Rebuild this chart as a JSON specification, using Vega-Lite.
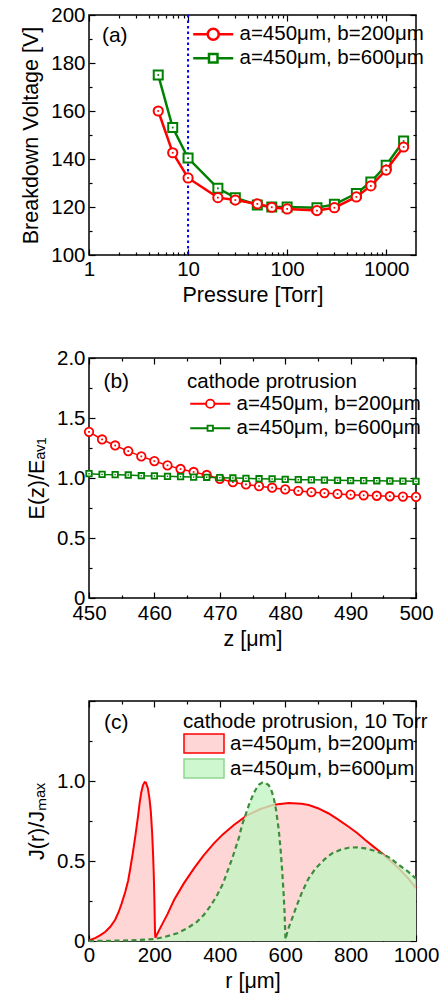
{
 "$schema": "https://vega.github.io/schema/vega-lite/v6.json",
 "padding": {"left": 20, "top": 4, "right": 5, "bottom": 5},
 "background": "white",
 "bounds": "flush",
 "spacing": 103,
 "resolve": {"scale": {"color": "independent", "shape": "independent", "size": "independent", "stroke": "independent"}, "legend": {"color": "independent", "shape": "independent", "size": "independent", "stroke": "independent"}},
 "datasets": {
  "pa": [
   {"p": 5, "v": 175.0, "s": "a=450μm, b=600μm"},
   {"p": 7, "v": 153.1, "s": "a=450μm, b=600μm"},
   {"p": 10, "v": 140.4, "s": "a=450μm, b=600μm"},
   {"p": 20, "v": 127.8, "s": "a=450μm, b=600μm"},
   {"p": 30, "v": 123.9, "s": "a=450μm, b=600μm"},
   {"p": 50, "v": 120.8, "s": "a=450μm, b=600μm"},
   {"p": 70, "v": 120.0, "s": "a=450μm, b=600μm"},
   {"p": 100, "v": 120.0, "s": "a=450μm, b=600μm"},
   {"p": 200, "v": 119.7, "s": "a=450μm, b=600μm"},
   {"p": 300, "v": 121.1, "s": "a=450μm, b=600μm"},
   {"p": 500, "v": 125.6, "s": "a=450μm, b=600μm"},
   {"p": 700, "v": 130.4, "s": "a=450μm, b=600μm"},
   {"p": 1000, "v": 137.4, "s": "a=450μm, b=600μm"},
   {"p": 1500, "v": 147.5, "s": "a=450μm, b=600μm"},
   {"p": 5, "v": 160.0, "s": "a=450μm, b=200μm"},
   {"p": 7, "v": 142.6, "s": "a=450μm, b=200μm"},
   {"p": 10, "v": 132.1, "s": "a=450μm, b=200μm"},
   {"p": 20, "v": 123.9, "s": "a=450μm, b=200μm"},
   {"p": 30, "v": 122.9, "s": "a=450μm, b=200μm"},
   {"p": 50, "v": 121.3, "s": "a=450μm, b=200μm"},
   {"p": 70, "v": 119.9, "s": "a=450μm, b=200μm"},
   {"p": 100, "v": 119.2, "s": "a=450μm, b=200μm"},
   {"p": 200, "v": 118.5, "s": "a=450μm, b=200μm"},
   {"p": 300, "v": 119.7, "s": "a=450μm, b=200μm"},
   {"p": 500, "v": 124.2, "s": "a=450μm, b=200μm"},
   {"p": 700, "v": 128.8, "s": "a=450μm, b=200μm"},
   {"p": 1000, "v": 135.4, "s": "a=450μm, b=200μm"},
   {"p": 1500, "v": 145.0, "s": "a=450μm, b=200μm"}
  ],
  "pb": [
   {"z": 450, "e": 1.385, "s": "a=450μm, b=200μm"},
   {"z": 452, "e": 1.321, "s": "a=450μm, b=200μm"},
   {"z": 454, "e": 1.271, "s": "a=450μm, b=200μm"},
   {"z": 456, "e": 1.224, "s": "a=450μm, b=200μm"},
   {"z": 458, "e": 1.18, "s": "a=450μm, b=200μm"},
   {"z": 460, "e": 1.141, "s": "a=450μm, b=200μm"},
   {"z": 462, "e": 1.105, "s": "a=450μm, b=200μm"},
   {"z": 464, "e": 1.075, "s": "a=450μm, b=200μm"},
   {"z": 466, "e": 1.05, "s": "a=450μm, b=200μm"},
   {"z": 468, "e": 1.025, "s": "a=450μm, b=200μm"},
   {"z": 470, "e": 0.993, "s": "a=450μm, b=200μm"},
   {"z": 472, "e": 0.965, "s": "a=450μm, b=200μm"},
   {"z": 474, "e": 0.946, "s": "a=450μm, b=200μm"},
   {"z": 476, "e": 0.932, "s": "a=450μm, b=200μm"},
   {"z": 478, "e": 0.919, "s": "a=450μm, b=200μm"},
   {"z": 480, "e": 0.905, "s": "a=450μm, b=200μm"},
   {"z": 482, "e": 0.893, "s": "a=450μm, b=200μm"},
   {"z": 484, "e": 0.882, "s": "a=450μm, b=200μm"},
   {"z": 486, "e": 0.874, "s": "a=450μm, b=200μm"},
   {"z": 488, "e": 0.867, "s": "a=450μm, b=200μm"},
   {"z": 490, "e": 0.861, "s": "a=450μm, b=200μm"},
   {"z": 492, "e": 0.856, "s": "a=450μm, b=200μm"},
   {"z": 494, "e": 0.852, "s": "a=450μm, b=200μm"},
   {"z": 496, "e": 0.848, "s": "a=450μm, b=200μm"},
   {"z": 498, "e": 0.845, "s": "a=450μm, b=200μm"},
   {"z": 500, "e": 0.842, "s": "a=450μm, b=200μm"},
   {"z": 450, "e": 1.036, "s": "a=450μm, b=600μm"},
   {"z": 452, "e": 1.030, "s": "a=450μm, b=600μm"},
   {"z": 454, "e": 1.028, "s": "a=450μm, b=600μm"},
   {"z": 456, "e": 1.025, "s": "a=450μm, b=600μm"},
   {"z": 458, "e": 1.019, "s": "a=450μm, b=600μm"},
   {"z": 460, "e": 1.017, "s": "a=450μm, b=600μm"},
   {"z": 462, "e": 1.014, "s": "a=450μm, b=600μm"},
   {"z": 464, "e": 1.011, "s": "a=450μm, b=600μm"},
   {"z": 466, "e": 1.008, "s": "a=450μm, b=600μm"},
   {"z": 468, "e": 1.006, "s": "a=450μm, b=600μm"},
   {"z": 470, "e": 1.003, "s": "a=450μm, b=600μm"},
   {"z": 472, "e": 1.0, "s": "a=450μm, b=600μm"},
   {"z": 474, "e": 0.997, "s": "a=450μm, b=600μm"},
   {"z": 476, "e": 0.994, "s": "a=450μm, b=600μm"},
   {"z": 478, "e": 0.992, "s": "a=450μm, b=600μm"},
   {"z": 480, "e": 0.989, "s": "a=450μm, b=600μm"},
   {"z": 482, "e": 0.986, "s": "a=450μm, b=600μm"},
   {"z": 484, "e": 0.985, "s": "a=450μm, b=600μm"},
   {"z": 486, "e": 0.983, "s": "a=450μm, b=600μm"},
   {"z": 488, "e": 0.981, "s": "a=450μm, b=600μm"},
   {"z": 490, "e": 0.979, "s": "a=450μm, b=600μm"},
   {"z": 492, "e": 0.978, "s": "a=450μm, b=600μm"},
   {"z": 494, "e": 0.977, "s": "a=450μm, b=600μm"},
   {"z": 496, "e": 0.975, "s": "a=450μm, b=600μm"},
   {"z": 498, "e": 0.974, "s": "a=450μm, b=600μm"},
   {"z": 500, "e": 0.972, "s": "a=450μm, b=600μm"}
  ],
  "pc": [
   {"r": 0, "j": 0.003, "s": "a=450μm, b=200μm"},
   {"r": 20, "j": 0.02, "s": "a=450μm, b=200μm"},
   {"r": 35, "j": 0.037, "s": "a=450μm, b=200μm"},
   {"r": 50, "j": 0.058, "s": "a=450μm, b=200μm"},
   {"r": 65, "j": 0.089, "s": "a=450μm, b=200μm"},
   {"r": 80, "j": 0.133, "s": "a=450μm, b=200μm"},
   {"r": 91, "j": 0.183, "s": "a=450μm, b=200μm"},
   {"r": 100, "j": 0.235, "s": "a=450μm, b=200μm"},
   {"r": 111, "j": 0.308, "s": "a=450μm, b=200μm"},
   {"r": 120, "j": 0.38, "s": "a=450μm, b=200μm"},
   {"r": 126, "j": 0.45, "s": "a=450μm, b=200μm"},
   {"r": 134, "j": 0.55, "s": "a=450μm, b=200μm"},
   {"r": 142, "j": 0.66, "s": "a=450μm, b=200μm"},
   {"r": 150, "j": 0.78, "s": "a=450μm, b=200μm"},
   {"r": 155, "j": 0.865, "s": "a=450μm, b=200μm"},
   {"r": 160, "j": 0.93, "s": "a=450μm, b=200μm"},
   {"r": 165, "j": 0.973, "s": "a=450μm, b=200μm"},
   {"r": 170, "j": 0.993, "s": "a=450μm, b=200μm"},
   {"r": 174, "j": 0.99, "s": "a=450μm, b=200μm"},
   {"r": 180, "j": 0.955, "s": "a=450μm, b=200μm"},
   {"r": 185, "j": 0.89, "s": "a=450μm, b=200μm"},
   {"r": 189, "j": 0.81, "s": "a=450μm, b=200μm"},
   {"r": 193, "j": 0.68, "s": "a=450μm, b=200μm"},
   {"r": 196, "j": 0.54, "s": "a=450μm, b=200μm"},
   {"r": 198, "j": 0.42, "s": "a=450μm, b=200μm"},
   {"r": 200, "j": 0.26, "s": "a=450μm, b=200μm"},
   {"r": 201, "j": 0.14, "s": "a=450μm, b=200μm"},
   {"r": 202, "j": 0.05, "s": "a=450μm, b=200μm"},
   {"r": 203, "j": 0.02, "s": "a=450μm, b=200μm"},
   {"r": 205, "j": 0.03, "s": "a=450μm, b=200μm"},
   {"r": 220, "j": 0.09, "s": "a=450μm, b=200μm"},
   {"r": 240, "j": 0.168, "s": "a=450μm, b=200μm"},
   {"r": 260, "j": 0.256, "s": "a=450μm, b=200μm"},
   {"r": 290, "j": 0.36, "s": "a=450μm, b=200μm"},
   {"r": 321, "j": 0.454, "s": "a=450μm, b=200μm"},
   {"r": 350, "j": 0.533, "s": "a=450μm, b=200μm"},
   {"r": 382, "j": 0.61, "s": "a=450μm, b=200μm"},
   {"r": 410, "j": 0.668, "s": "a=450μm, b=200μm"},
   {"r": 443, "j": 0.725, "s": "a=450μm, b=200μm"},
   {"r": 482, "j": 0.783, "s": "a=450μm, b=200μm"},
   {"r": 524, "j": 0.825, "s": "a=450μm, b=200μm"},
   {"r": 565, "j": 0.852, "s": "a=450μm, b=200μm"},
   {"r": 611, "j": 0.862, "s": "a=450μm, b=200μm"},
   {"r": 650, "j": 0.858, "s": "a=450μm, b=200μm"},
   {"r": 672, "j": 0.85, "s": "a=450μm, b=200μm"},
   {"r": 700, "j": 0.83, "s": "a=450μm, b=200μm"},
   {"r": 733, "j": 0.797, "s": "a=450μm, b=200μm"},
   {"r": 760, "j": 0.762, "s": "a=450μm, b=200μm"},
   {"r": 794, "j": 0.714, "s": "a=450μm, b=200μm"},
   {"r": 820, "j": 0.675, "s": "a=450μm, b=200μm"},
   {"r": 845, "j": 0.631, "s": "a=450μm, b=200μm"},
   {"r": 870, "j": 0.59, "s": "a=450μm, b=200μm"},
   {"r": 896, "j": 0.548, "s": "a=450μm, b=200μm"},
   {"r": 920, "j": 0.505, "s": "a=450μm, b=200μm"},
   {"r": 947, "j": 0.454, "s": "a=450μm, b=200μm"},
   {"r": 975, "j": 0.395, "s": "a=450μm, b=200μm"},
   {"r": 1000, "j": 0.33, "s": "a=450μm, b=200μm"},
   {"r": 0, "j": 0.0, "s": "a=450μm, b=600μm"},
   {"r": 50, "j": 0.001, "s": "a=450μm, b=600μm"},
   {"r": 100, "j": 0.003, "s": "a=450μm, b=600μm"},
   {"r": 150, "j": 0.006, "s": "a=450μm, b=600μm"},
   {"r": 200, "j": 0.012, "s": "a=450μm, b=600μm"},
   {"r": 230, "j": 0.025, "s": "a=450μm, b=600μm"},
   {"r": 270, "j": 0.048, "s": "a=450μm, b=600μm"},
   {"r": 300, "j": 0.079, "s": "a=450μm, b=600μm"},
   {"r": 330, "j": 0.12, "s": "a=450μm, b=600μm"},
   {"r": 351, "j": 0.1625, "s": "a=450μm, b=600μm"},
   {"r": 372, "j": 0.22, "s": "a=450μm, b=600μm"},
   {"r": 392, "j": 0.2875, "s": "a=450μm, b=600μm"},
   {"r": 410, "j": 0.36, "s": "a=450μm, b=600μm"},
   {"r": 423, "j": 0.433, "s": "a=450μm, b=600μm"},
   {"r": 436, "j": 0.505, "s": "a=450μm, b=600μm"},
   {"r": 448, "j": 0.579, "s": "a=450μm, b=600μm"},
   {"r": 459, "j": 0.65, "s": "a=450μm, b=600μm"},
   {"r": 468, "j": 0.725, "s": "a=450μm, b=600μm"},
   {"r": 479, "j": 0.79, "s": "a=450μm, b=600μm"},
   {"r": 489, "j": 0.85, "s": "a=450μm, b=600μm"},
   {"r": 500, "j": 0.905, "s": "a=450μm, b=600μm"},
   {"r": 509, "j": 0.944, "s": "a=450μm, b=600μm"},
   {"r": 520, "j": 0.977, "s": "a=450μm, b=600μm"},
   {"r": 530, "j": 0.99, "s": "a=450μm, b=600μm"},
   {"r": 540, "j": 0.987, "s": "a=450μm, b=600μm"},
   {"r": 550, "j": 0.973, "s": "a=450μm, b=600μm"},
   {"r": 558, "j": 0.94, "s": "a=450μm, b=600μm"},
   {"r": 565, "j": 0.895, "s": "a=450μm, b=600μm"},
   {"r": 572, "j": 0.82, "s": "a=450μm, b=600μm"},
   {"r": 580, "j": 0.70, "s": "a=450μm, b=600μm"},
   {"r": 586, "j": 0.57, "s": "a=450μm, b=600μm"},
   {"r": 591, "j": 0.433, "s": "a=450μm, b=600μm"},
   {"r": 595, "j": 0.3, "s": "a=450μm, b=600μm"},
   {"r": 598, "j": 0.183, "s": "a=450μm, b=600μm"},
   {"r": 600, "j": 0.06, "s": "a=450μm, b=600μm"},
   {"r": 601, "j": 0.01, "s": "a=450μm, b=600μm"},
   {"r": 605, "j": 0.045, "s": "a=450μm, b=600μm"},
   {"r": 611, "j": 0.085, "s": "a=450μm, b=600μm"},
   {"r": 621, "j": 0.14, "s": "a=450μm, b=600μm"},
   {"r": 635, "j": 0.22, "s": "a=450μm, b=600μm"},
   {"r": 652, "j": 0.308, "s": "a=450μm, b=600μm"},
   {"r": 670, "j": 0.385, "s": "a=450μm, b=600μm"},
   {"r": 693, "j": 0.454, "s": "a=450μm, b=600μm"},
   {"r": 720, "j": 0.51, "s": "a=450μm, b=600μm"},
   {"r": 743, "j": 0.5475, "s": "a=450μm, b=600μm"},
   {"r": 770, "j": 0.571, "s": "a=450μm, b=600μm"},
   {"r": 794, "j": 0.583, "s": "a=450μm, b=600μm"},
   {"r": 820, "j": 0.586, "s": "a=450μm, b=600μm"},
   {"r": 845, "j": 0.579, "s": "a=450μm, b=600μm"},
   {"r": 870, "j": 0.566, "s": "a=450μm, b=600μm"},
   {"r": 896, "j": 0.5475, "s": "a=450μm, b=600μm"},
   {"r": 920, "j": 0.52, "s": "a=450μm, b=600μm"},
   {"r": 947, "j": 0.476, "s": "a=450μm, b=600μm"},
   {"r": 975, "j": 0.435, "s": "a=450μm, b=600μm"},
   {"r": 1000, "j": 0.39, "s": "a=450μm, b=600μm"}
  ]
 },
 "vconcat": [
  {
   "width": 327, "height": 240,
   "resolve": {"axis": {"x": "independent", "y": "independent"}},
   "layer": [
    {
     "data": {"values": [{"p": 10}]},
     "mark": {"type": "rule", "color": "#0000ff", "strokeWidth": 2, "strokeDash": [2.5, 3]},
     "encoding": {"x": {"field": "p", "type": "quantitative", "scale": {"type": "log", "domain": [1, 2000], "nice": false}, "axis": null}}
    },
    {
     "data": {"name": "pa"},
     "mark": {"type": "point", "filled": false, "opacity": 0, "strokeWidth": 2.5},
     "encoding": {
      "x": {"field": "p", "type": "quantitative", "scale": {"type": "log", "domain": [1, 2000], "nice": false},
        "axis": {"orient": "bottom", "title": "Pressure [Torr]", "values": [1,2,3,4,5,6,7,8,9,10,20,30,40,50,60,70,80,90,100,200,300,400,500,600,700,800,900,1000],
          "labelExpr": "indexof([1,10,100,1000], datum.value) >= 0 ? '' + datum.value : ''",
          "tickSize": {"condition": {"test": "indexof([1,10,100,1000], datum.value) >= 0", "value": -6}, "value": -3},
          "labelPadding": 10, "titlePadding": 2}},
      "y": {"field": "v", "type": "quantitative", "scale": {"domain": [100, 200], "nice": false, "zero": false},
        "axis": {"orient": "left", "title": "Breakdown Voltage [V]", "values": [100,110,120,130,140,150,160,170,180,190,200],
          "labelExpr": "datum.value % 20 === 0 ? '' + datum.value : ''",
          "tickSize": {"condition": {"test": "datum.value % 20 === 0", "value": -6}, "value": -3},
          "labelPadding": 10, "titlePadding": 8}},
      "color": {"field": "s", "type": "nominal", "scale": {"domain": ["a=450μm, b=200μm", "a=450μm, b=600μm"], "range": ["#ff0000", "#008000"]},
        "legend": {"title": null, "orient": "none", "legendX": 101, "legendY": 9, "symbolSize": 196, "symbolStrokeWidth": 2.5, "symbolOpacity": 1, "labelOffset": 29, "rowPadding": 3}},
      "shape": {"field": "s", "type": "nominal", "scale": {"domain": ["a=450μm, b=200μm", "a=450μm, b=600μm"], "range": ["M-1,0H1.071M2.643,0H4.714M2.643,0A0.786,0.786,0,1,1,1.071,0A0.786,0.786,0,1,1,2.643,0Z", "M-1,0H1.25M2.464,0H4.714M1.25,-0.607H2.464V0.607H1.25Z"]},
        "legend": {"title": null, "orient": "none", "legendX": 101, "legendY": 9, "symbolSize": 196, "symbolStrokeWidth": 2.5, "symbolOpacity": 1, "labelOffset": 29, "rowPadding": 3}}
     }
    },
    {
     "data": {"name": "pa"},
     "transform": [{"filter": "datum.s === 'a=450μm, b=600μm'"}],
     "mark": {"type": "line", "color": "#008000", "strokeWidth": 2.5},
     "encoding": {
      "x": {"field": "p", "type": "quantitative", "scale": {"type": "log", "domain": [1, 2000], "nice": false},
        "axis": {"orient": "top", "title": null, "labels": false, "values": [1,2,3,4,5,6,7,8,9,10,20,30,40,50,60,70,80,90,100,200,300,400,500,600,700,800,900,1000],
          "tickSize": {"condition": {"test": "indexof([1,10,100,1000], datum.value) >= 0", "value": -6}, "value": -3}}},
      "y": {"field": "v", "type": "quantitative", "scale": {"domain": [100, 200], "nice": false, "zero": false},
        "axis": {"orient": "right", "title": null, "labels": false, "values": [100,110,120,130,140,150,160,170,180,190,200],
          "tickSize": {"condition": {"test": "datum.value % 20 === 0", "value": -6}, "value": -3}}}
     }
    },
    {
     "data": {"name": "pa"},
     "transform": [{"filter": "datum.s === 'a=450μm, b=600μm'"}],
     "mark": {"type": "point", "shape": "square", "filled": false, "fill": "white", "color": "#008000", "strokeWidth": 2, "size": 81, "opacity": 1},
     "encoding": {
      "x": {"field": "p", "type": "quantitative", "scale": {"type": "log", "domain": [1, 2000], "nice": false}, "axis": null},
      "y": {"field": "v", "type": "quantitative", "scale": {"domain": [100, 200], "nice": false, "zero": false}, "axis": null}
     }
    },
    {
     "data": {"name": "pa"},
     "transform": [{"filter": "datum.s === 'a=450μm, b=600μm'"}],
     "mark": {"type": "point", "shape": "square", "filled": true, "color": "#008000", "size": 3, "opacity": 1},
     "encoding": {
      "x": {"field": "p", "type": "quantitative", "scale": {"type": "log", "domain": [1, 2000], "nice": false}, "axis": null},
      "y": {"field": "v", "type": "quantitative", "scale": {"domain": [100, 200], "nice": false, "zero": false}, "axis": null}
     }
    },
    {
     "data": {"name": "pa"},
     "transform": [{"filter": "datum.s === 'a=450μm, b=200μm'"}],
     "mark": {"type": "line", "color": "#ff0000", "strokeWidth": 2.5},
     "encoding": {
      "x": {"field": "p", "type": "quantitative", "scale": {"type": "log", "domain": [1, 2000], "nice": false}, "axis": null},
      "y": {"field": "v", "type": "quantitative", "scale": {"domain": [100, 200], "nice": false, "zero": false}, "axis": null}
     }
    },
    {
     "data": {"name": "pa"},
     "transform": [{"filter": "datum.s === 'a=450μm, b=200μm'"}],
     "mark": {"type": "point", "shape": "circle", "filled": false, "fill": "white", "color": "#ff0000", "strokeWidth": 2, "size": 85, "opacity": 1},
     "encoding": {
      "x": {"field": "p", "type": "quantitative", "scale": {"type": "log", "domain": [1, 2000], "nice": false}, "axis": null},
      "y": {"field": "v", "type": "quantitative", "scale": {"domain": [100, 200], "nice": false, "zero": false}, "axis": null}
     }
    },
    {
     "data": {"name": "pa"},
     "transform": [{"filter": "datum.s === 'a=450μm, b=200μm'"}],
     "mark": {"type": "point", "shape": "square", "filled": true, "color": "#ff0000", "size": 3, "opacity": 1},
     "encoding": {
      "x": {"field": "p", "type": "quantitative", "scale": {"type": "log", "domain": [1, 2000], "nice": false}, "axis": null},
      "y": {"field": "v", "type": "quantitative", "scale": {"domain": [100, 200], "nice": false, "zero": false}, "axis": null}
     }
    },
    {
     "data": {"values": [{"x": 1.35, "y": 191.3, "t": "(a)"}]},
     "mark": {"type": "text", "align": "left", "baseline": "middle", "fontSize": 21},
     "encoding": {
      "x": {"field": "x", "type": "quantitative", "scale": {"type": "log", "domain": [1, 2000], "nice": false}, "axis": null},
      "y": {"field": "y", "type": "quantitative", "scale": {"domain": [100, 200], "nice": false, "zero": false}, "axis": null},
      "text": {"field": "t"}
     }
    }
   ]
  },
  {
   "width": 327, "height": 240,
   "resolve": {"axis": {"x": "independent", "y": "independent"}},
   "layer": [
    {
     "data": {"name": "pb"},
     "mark": {"type": "point", "filled": false, "opacity": 0, "strokeWidth": 1.8},
     "encoding": {
      "x": {"field": "z", "type": "quantitative", "scale": {"domain": [450, 500], "nice": false, "zero": false},
        "axis": {"orient": "bottom", "title": "z [μm]", "values": [450,455,460,465,470,475,480,485,490,495,500],
          "labelExpr": "datum.value % 10 === 0 ? '' + datum.value : ''",
          "tickSize": {"condition": {"test": "datum.value % 10 === 0", "value": -6}, "value": -3},
          "labelPadding": 11, "titlePadding": 2}},
      "y": {"field": "e", "type": "quantitative", "scale": {"domain": [0, 2], "nice": false},
        "axis": {"orient": "left", "title": "E(z)/Eₐᵥ₁", "values": [0,0.25,0.5,0.75,1,1.25,1.5,1.75,2],
          "labelExpr": "datum.value % 0.5 === 0 ? (datum.value === 0 ? '0' : format(datum.value, '.1f')) : ''",
          "tickSize": {"condition": {"test": "datum.value % 0.5 === 0", "value": -6}, "value": -3},
          "labelPadding": 10, "titlePadding": 8}},
      "color": {"field": "s", "type": "nominal", "scale": {"domain": ["a=450μm, b=200μm", "a=450μm, b=600μm"], "range": ["#ff0000", "#008000"]},
        "legend": {"title": "cathode protrusion", "orient": "none", "legendX": 98, "legendY": 14, "symbolSize": 196, "symbolStrokeWidth": 1.8, "symbolOpacity": 1, "labelOffset": 29, "rowPadding": 3.5}},
      "shape": {"field": "s", "type": "nominal", "scale": {"domain": ["a=450μm, b=200μm", "a=450μm, b=600μm"], "range": ["M-1,0H1.257M2.457,0H4.714M2.457,0A0.6,0.6,0,1,1,1.257,0A0.6,0.6,0,1,1,2.457,0Z", "M-1,0H1.471M2.243,0H4.714M1.471,-0.386H2.243V0.386H1.471Z"]},
        "legend": {"title": "cathode protrusion", "orient": "none", "legendX": 98, "legendY": 14, "symbolSize": 196, "symbolStrokeWidth": 1.8, "symbolOpacity": 1, "labelOffset": 29, "rowPadding": 3.5}}
     }
    },
    {
     "data": {"name": "pb"},
     "transform": [{"filter": "datum.s === 'a=450μm, b=200μm'"}],
     "mark": {"type": "line", "color": "#ff0000", "strokeWidth": 1.5},
     "encoding": {
      "x": {"field": "z", "type": "quantitative", "scale": {"domain": [450, 500], "nice": false, "zero": false},
        "axis": {"orient": "top", "title": null, "labels": false, "values": [450,455,460,465,470,475,480,485,490,495,500],
          "tickSize": {"condition": {"test": "datum.value % 10 === 0", "value": -6}, "value": -3}}},
      "y": {"field": "e", "type": "quantitative", "scale": {"domain": [0, 2], "nice": false},
        "axis": {"orient": "right", "title": null, "labels": false, "values": [0,0.25,0.5,0.75,1,1.25,1.5,1.75,2],
          "tickSize": {"condition": {"test": "datum.value % 0.5 === 0", "value": -6}, "value": -3}}}
     }
    },
    {
     "data": {"name": "pb"},
     "transform": [{"filter": "datum.s === 'a=450μm, b=200μm'"}],
     "mark": {"type": "point", "shape": "circle", "filled": false, "fill": "white", "color": "#ff0000", "strokeWidth": 1.8, "size": 72, "opacity": 1},
     "encoding": {
      "x": {"field": "z", "type": "quantitative", "scale": {"domain": [450, 500], "nice": false, "zero": false}, "axis": null},
      "y": {"field": "e", "type": "quantitative", "scale": {"domain": [0, 2], "nice": false}, "axis": null}
     }
    },
    {
     "data": {"name": "pb"},
     "transform": [{"filter": "datum.s === 'a=450μm, b=200μm'"}],
     "mark": {"type": "point", "shape": "square", "filled": true, "color": "#ff0000", "size": 3, "opacity": 1},
     "encoding": {
      "x": {"field": "z", "type": "quantitative", "scale": {"domain": [450, 500], "nice": false, "zero": false}, "axis": null},
      "y": {"field": "e", "type": "quantitative", "scale": {"domain": [0, 2], "nice": false}, "axis": null}
     }
    },
    {
     "data": {"name": "pb"},
     "transform": [{"filter": "datum.s === 'a=450μm, b=600μm'"}],
     "mark": {"type": "line", "color": "#008000", "strokeWidth": 1.5},
     "encoding": {
      "x": {"field": "z", "type": "quantitative", "scale": {"domain": [450, 500], "nice": false, "zero": false}, "axis": null},
      "y": {"field": "e", "type": "quantitative", "scale": {"domain": [0, 2], "nice": false}, "axis": null}
     }
    },
    {
     "data": {"name": "pb"},
     "transform": [{"filter": "datum.s === 'a=450μm, b=600μm'"}],
     "mark": {"type": "point", "shape": "square", "filled": false, "fill": "white", "color": "#008000", "strokeWidth": 1.8, "size": 30, "opacity": 1},
     "encoding": {
      "x": {"field": "z", "type": "quantitative", "scale": {"domain": [450, 500], "nice": false, "zero": false}, "axis": null},
      "y": {"field": "e", "type": "quantitative", "scale": {"domain": [0, 2], "nice": false}, "axis": null}
     }
    },
    {
     "data": {"name": "pb"},
     "transform": [{"filter": "datum.s === 'a=450μm, b=600μm'"}],
     "mark": {"type": "point", "shape": "square", "filled": true, "color": "#008000", "size": 2, "opacity": 1},
     "encoding": {
      "x": {"field": "z", "type": "quantitative", "scale": {"domain": [450, 500], "nice": false, "zero": false}, "axis": null},
      "y": {"field": "e", "type": "quantitative", "scale": {"domain": [0, 2], "nice": false}, "axis": null}
     }
    },
    {
     "data": {"values": [{"x": 452.2, "y": 1.8, "t": "(b)"}]},
     "mark": {"type": "text", "align": "left", "baseline": "middle", "fontSize": 21},
     "encoding": {
      "x": {"field": "x", "type": "quantitative", "scale": {"domain": [450, 500], "nice": false, "zero": false}, "axis": null},
      "y": {"field": "y", "type": "quantitative", "scale": {"domain": [0, 2], "nice": false}, "axis": null},
      "text": {"field": "t"}
     }
    }
   ]
  },
  {
   "width": 327, "height": 240,
   "resolve": {"axis": {"x": "independent", "y": "independent"}},
   "layer": [
    {
     "data": {"name": "pc"},
     "mark": {"type": "point", "filled": true, "opacity": 0, "strokeWidth": 1.5},
     "encoding": {
      "x": {"field": "r", "type": "quantitative", "scale": {"domain": [0, 1000], "nice": false},
        "axis": {"orient": "bottom", "title": "r [μm]", "values": [0,100,200,300,400,500,600,700,800,900,1000],
          "labelExpr": "datum.value % 200 === 0 ? '' + datum.value : ''",
          "tickSize": {"condition": {"test": "datum.value % 200 === 0", "value": -6}, "value": -3},
          "labelPadding": 10, "titlePadding": 2}},
      "y": {"field": "j", "type": "quantitative", "scale": {"domain": [0, 1.5], "nice": false},
        "axis": {"orient": "left", "title": "J(r)/Jₘₐₓ", "values": [0,0.25,0.5,0.75,1,1.25,1.5],
          "labelExpr": "datum.value % 0.5 === 0 && datum.value < 1.4 ? (datum.value === 0 ? '0' : format(datum.value, '.1f')) : ''",
          "tickSize": {"condition": {"test": "datum.value % 0.5 === 0", "value": -6}, "value": -3},
          "labelPadding": 10, "titlePadding": 8}},
      "color": {"field": "s", "type": "nominal", "scale": {"domain": ["a=450μm, b=200μm", "a=450μm, b=600μm"], "range": ["#ffd6d6", "#cff7cf"]},
        "legend": {"title": "cathode protrusion, 10 Torr", "orient": "none", "legendX": 94, "legendY": 10.5, "symbolSize": 361, "symbolStrokeWidth": 1.5, "symbolOpacity": 1, "labelOffset": 26, "rowPadding": 0}},
      "stroke": {"field": "s", "type": "nominal", "scale": {"domain": ["a=450μm, b=200μm", "a=450μm, b=600μm"], "range": ["#ff0000", "#8fd68f"]},
        "legend": {"title": "cathode protrusion, 10 Torr", "orient": "none", "legendX": 94, "legendY": 10.5, "symbolSize": 361, "symbolStrokeWidth": 1.5, "symbolOpacity": 1, "labelOffset": 26, "rowPadding": 0}},
      "shape": {"field": "s", "type": "nominal", "scale": {"domain": ["a=450μm, b=200μm", "a=450μm, b=600μm"], "range": ["M-1,-1H3.2105V1H-1Z", "M-1,-1H3.2105V1H-1Z"]},
        "legend": {"title": "cathode protrusion, 10 Torr", "orient": "none", "legendX": 94, "legendY": 10.5, "symbolSize": 361, "symbolStrokeWidth": 1.5, "symbolOpacity": 1, "labelOffset": 26, "rowPadding": 0}}
     }
    },
    {
     "data": {"name": "pc"},
     "transform": [{"filter": "datum.s === 'a=450μm, b=200μm'"}],
     "mark": {"type": "area", "color": "#ffd6d6", "opacity": 1},
     "encoding": {
      "x": {"field": "r", "type": "quantitative", "scale": {"domain": [0, 1000], "nice": false}, "axis": null},
      "y": {"field": "j", "type": "quantitative", "scale": {"domain": [0, 1.5], "nice": false}, "axis": null}
     }
    },
    {
     "data": {"name": "pc"},
     "transform": [{"filter": "datum.s === 'a=450μm, b=200μm'"}],
     "mark": {"type": "line", "color": "#ff0000", "strokeWidth": 2},
     "encoding": {
      "x": {"field": "r", "type": "quantitative", "scale": {"domain": [0, 1000], "nice": false},
        "axis": {"orient": "top", "title": null, "labels": false, "values": [0,100,200,300,400,500,600,700,800,900,1000],
          "tickSize": {"condition": {"test": "datum.value % 200 === 0", "value": -6}, "value": -3}}},
      "y": {"field": "j", "type": "quantitative", "scale": {"domain": [0, 1.5], "nice": false},
        "axis": {"orient": "right", "title": null, "labels": false, "values": [0,0.25,0.5,0.75,1,1.25,1.5],
          "tickSize": {"condition": {"test": "datum.value % 0.5 === 0", "value": -6}, "value": -3}}}
     }
    },
    {
     "data": {"name": "pc"},
     "transform": [{"filter": "datum.s === 'a=450μm, b=600μm'"}],
     "mark": {"type": "area", "color": "#c3f5c3", "opacity": 0.8},
     "encoding": {
      "x": {"field": "r", "type": "quantitative", "scale": {"domain": [0, 1000], "nice": false}, "axis": null},
      "y": {"field": "j", "type": "quantitative", "scale": {"domain": [0, 1.5], "nice": false}, "axis": null}
     }
    },
    {
     "data": {"name": "pc"},
     "transform": [{"filter": "datum.s === 'a=450μm, b=600μm'"}],
     "mark": {"type": "line", "color": "#3d8c3d", "strokeWidth": 2.2, "strokeDash": [5, 3.5]},
     "encoding": {
      "x": {"field": "r", "type": "quantitative", "scale": {"domain": [0, 1000], "nice": false}, "axis": null},
      "y": {"field": "j", "type": "quantitative", "scale": {"domain": [0, 1.5], "nice": false}, "axis": null}
     }
    },
    {
     "data": {"values": [{"x": 46, "y": 1.36, "t": "(c)"}]},
     "mark": {"type": "text", "align": "left", "baseline": "middle", "fontSize": 21},
     "encoding": {
      "x": {"field": "x", "type": "quantitative", "scale": {"domain": [0, 1000], "nice": false}, "axis": null},
      "y": {"field": "y", "type": "quantitative", "scale": {"domain": [0, 1.5], "nice": false}, "axis": null},
      "text": {"field": "t"}
     }
    }
   ]
  }
 ],
 "config": {
  "font": "Liberation Sans",
  "view": {"stroke": "black", "strokeWidth": 1.5},
  "axis": {"domain": false, "grid": false, "labelFont": "Liberation Sans", "labelFontSize": 20.5, "labelColor": "black",
    "titleFont": "Liberation Sans", "titleFontSize": 21.5, "titleFontWeight": "normal", "titleColor": "black",
    "tickColor": "black", "tickWidth": 1.2, "labelFlush": false, "labelOverlap": false, "labelBound": false},
  "legend": {"labelFont": "Liberation Sans", "labelFontSize": 20.5, "labelColor": "black", "titleFont": "Liberation Sans",
    "titleFontSize": 20.5, "titleFontWeight": "normal", "titleColor": "black", "padding": 0, "titlePadding": 1, "labelLimit": 400, "titleLimit": 400},
  "text": {"font": "Liberation Sans", "fontSize": 21, "color": "black"}
 }
}
